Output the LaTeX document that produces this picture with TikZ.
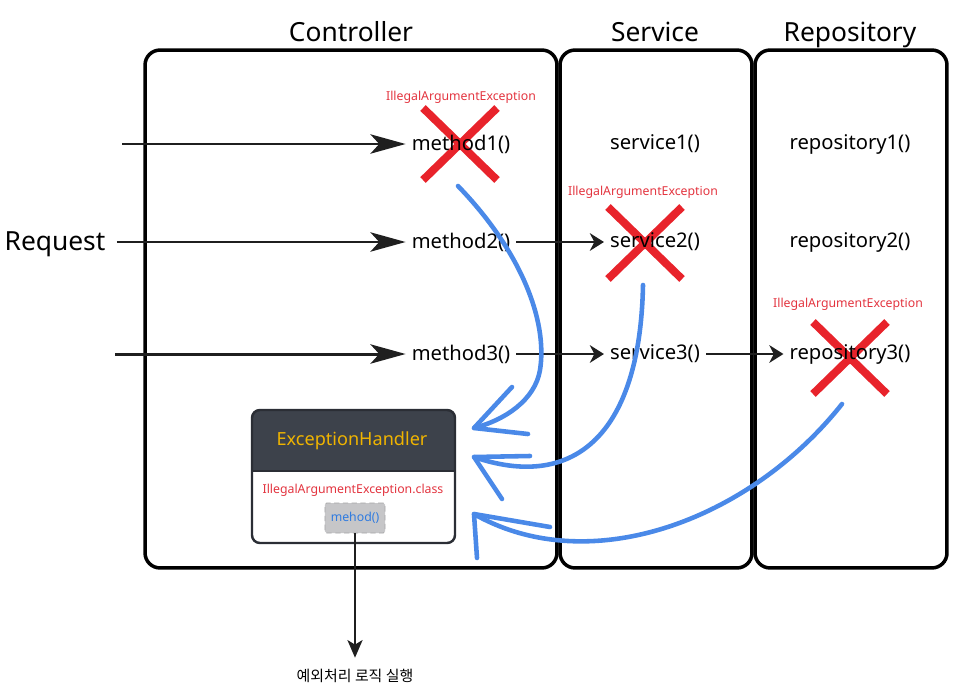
\documentclass[tikz,border=0pt]{standalone}
\usepackage{fontspec}
\setmainfont{Noto Sans}
\newfontfamily\krfont{Noto Sans CJK KR}
\usetikzlibrary{
	positioning,
	arrows.meta
}

\definecolor{xred}{HTML}{E8232B}
\definecolor{lblred}{HTML}{E3343F}
\definecolor{flowblue}{HTML}{4A89E8}
\definecolor{hdrgray}{HTML}{3D424B}
\definecolor{hdryellow}{HTML}{F0B400}
\definecolor{btngray}{HTML}{C6C6C8}
\definecolor{btnblue}{HTML}{2F7BE0}

\begin{document}
\begin{tikzpicture}[
			x=0.02cm, y=-0.02cm,
			panel/.style={
				draw,
				line width=2pt,
				rounded corners=0.3cm,
				minimum height=10.36cm
			},
			paneltitle/.style={font=\fontsize{15}{18}\selectfont},
			call/.style={font=\fontsize{11.5}{14}\selectfont},
			errlabel/.style={text=lblred, font=\fontsize{7}{8}\selectfont, inner sep=1pt},
			cross/.style={xred, line width=4.5pt},
			inarrow/.style={-{Stealth[length=20pt,width=11pt,inset=5pt]}, line width=1.7pt, black!88},
			callarrow/.style={-{Stealth[length=8pt,width=10pt,inset=2.5pt]}, line width=1.5pt, black!88},
			throwback/.style={flowblue, line width=2.6pt, line cap=round, line join=round},
			btn/.style={
				draw=black!35,
				densely dashed,
				fill=btngray,
				rounded corners=1pt,
				minimum width=1.08cm,
				minimum height=0.6cm,
				text=btnblue,
				font=\fontsize{7}{8}\selectfont
			}
			]
			
			\useasboundingbox (0,0) rectangle (957,687);
			
			% layers
			\node[panel, minimum width=8.24cm] (ctrl) at (351,309) {};
			\node[panel, minimum width=3.84cm] (svc) at (656,309) {};
			\node[panel, minimum width=3.84cm] (repo) at (851,309) {};
			
			\node[paneltitle, anchor=base] (ctrltitle) at (351,41) {Controller};
			\node[paneltitle, anchor=base] (svctitle) at (655,41) {Service};
			\node[paneltitle, anchor=base] (repotitle) at (850,41) {Repository};
			
			% failures
			\coordinate (x1) at (460,144);
			\coordinate (x2) at (645,243);
			\coordinate (x3) at (850,358);
			\foreach \c in {x1,x2,x3}
				\draw[cross, shift={(\c)}] (-37,-36) -- (37,36) (-37,36) -- (37,-36);
			
			\node[errlabel] (err1) at (461,97) {IllegalArgumentException};
			\node[errlabel] (err2) at (643,192) {IllegalArgumentException};
			\node[errlabel] (err3) at (848,304) {IllegalArgumentException};
			
			% calls
			\node[paneltitle] (req) at (55,244) {Request};
			
			\node[call] (method1) at (461,144) {method1()};
			\node[call] (method2) at (461,242) {method2()};
			\node[call] (method3) at (461,354) {method3()};
			
			\node[call] (service1) at (655,144) {service1()};
			\node[call] (service2) at (655,242) {service2()};
			\node[call] (service3) at (655,354) {service3()};
			
			\node[call] (repository1) at (850,144) {repository1()};
			\node[call] (repository2) at (850,242) {repository2()};
			\node[call] (repository3) at (850,354) {repository3()};
			
			\coordinate (in1) at (122,144);
			\coordinate (in3) at (115,354);
			
			\draw[inarrow] (in1) -- (method1);
			\draw[inarrow, shorten <=3pt] (req.east |- method2) -- (method2);
			\draw[inarrow] (in3) -- (method3);
			\draw[callarrow] (method2) -- (service2);
			\draw[callarrow] (method3) -- (service3);
			\draw[callarrow] (service3) -- (repository3);
			
			% handler
			\begin{scope}
				\clip[rounded corners=4.5pt] (252,410) rectangle (455,543);
				\fill[white] (252,410) rectangle (455,543);
				\fill[hdrgray] (252,410) rectangle (455,471);
			\end{scope}
			\draw[hdrgray!70!black, line width=1.4pt, rounded corners=4.5pt] (252,410) rectangle (455,543);
			\draw[hdrgray!70!black, line width=1pt] (252,471) -- (455,471);
			
			\node[text=hdryellow, font=\fontsize{10.3}{12}\selectfont] (handler) at (352,441) {ExceptionHandler};
			\node[errlabel] (handlercls) at (353,490) {IllegalArgumentException.class};
			\node[btn] (mehod) at (355,518) {mehod()};
			
			\node[font=\krfont\fontsize{8.5}{10}\selectfont] (result) at (355,676) {예외처리 로직 실행};
			\draw[-{Stealth[length=10pt,width=8.5pt,inset=2.5pt]}, line width=1.6pt, black!88, shorten >=3pt] (mehod) -- (result);
			
			% thrown back to the handler
			\coordinate (from1) at (458,186);
			\coordinate (from2) at (643,285);
			\coordinate (from3) at (842,404);
			\coordinate (tip1) at (474,428);
			\coordinate (tip2) at (474,457);
			\coordinate (tip3) at (474,514);
			
			\draw[throwback] (from1) .. controls (520,250) and (548,320) .. (540,370)
				.. controls (535,400) and (505,420) .. (tip1);
			\draw[throwback] (512,387) -- (tip1) -- (528,434);
			
			\draw[throwback] (from2) .. controls (640,440) and (570,490) .. (tip2);
			\draw[throwback] (530,456) -- (tip2) -- (502,499);
			
			\draw[throwback] (from3) .. controls (750,520) and (590,580) .. (tip3);
			\draw[throwback] (550,527) -- (tip3) -- (477,558);
			
		\end{tikzpicture}
\end{document}
